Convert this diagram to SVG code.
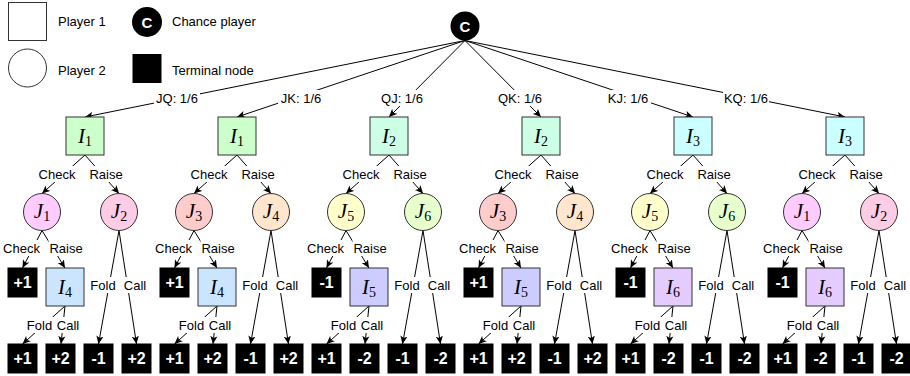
<svg xmlns="http://www.w3.org/2000/svg" width="910" height="376" viewBox="0 0 910 376">
<defs>
<marker id="a" viewBox="0 0 10 10" refX="10" refY="5" markerWidth="8" markerHeight="8" markerUnits="userSpaceOnUse" orient="auto"><path d="M0,0.5 L10,5 L0,9.5 L2.5,5 z" fill="#000"/></marker>
</defs>
<style>
text{font-family:"Liberation Sans",Arial,sans-serif;font-size:13px;fill:#000}
.lbl{text-anchor:middle}
.bg{fill:#fff}
.e{stroke:#000;stroke-width:1;fill:none;marker-end:url(#a)}
.n{stroke:#333;stroke-width:1}
.t{fill:#000;stroke:#000}
.tt{fill:#fff;font-weight:bold;font-size:16px;text-anchor:middle}
.m{font-family:"Liberation Serif","Times New Roman",serif;font-size:21px;text-anchor:middle}
.m tspan.v{font-style:italic}
.m tspan.s{font-size:14px}
.leg{fill:#fff;stroke:#333;stroke-width:1}
</style>
<rect width="910" height="376" fill="#fff"/>

<g id="legend">
<rect class="leg" x="8.5" y="2.5" width="38" height="38"/>
<text x="58" y="26">Player 1</text>
<circle class="leg" cx="27.5" cy="68" r="19"/>
<text x="58" y="75">Player 2</text>
<circle cx="147" cy="22" r="15" fill="#000"/>
<text x="147" y="27.5" class="tt" style="font-size:15px">C</text>
<text x="172" y="26">Chance player</text>
<rect x="132.5" y="54" width="29" height="29" fill="#000"/>
<text x="172" y="75">Terminal node</text>
</g>

<g id="connectors">
<!-- root edges -->
<line class="e" x1="465" y1="40.5" x2="85" y2="117"/>
<line class="e" x1="465" y1="40.5" x2="237" y2="117"/>
<line class="e" x1="465" y1="40.5" x2="389" y2="117"/>
<line class="e" x1="465" y1="40.5" x2="541" y2="117"/>
<line class="e" x1="465" y1="40.5" x2="693" y2="117"/>
<line class="e" x1="465" y1="40.5" x2="845" y2="117"/>
<g>
<rect class="bg" x="154" y="90" width="46" height="16"/><text class="lbl" x="177" y="102.5">JQ: 1/6</text>
<rect class="bg" x="278" y="90" width="46" height="16"/><text class="lbl" x="301" y="102.5">JK: 1/6</text>
<rect class="bg" x="379" y="90" width="46" height="16"/><text class="lbl" x="402" y="102.5">QJ: 1/6</text>
<rect class="bg" x="497" y="90" width="46" height="16"/><text class="lbl" x="520" y="102.5">QK: 1/6</text>
<rect class="bg" x="605" y="90" width="46" height="16"/><text class="lbl" x="628" y="102.5">KJ: 1/6</text>
<rect class="bg" x="723" y="90" width="46" height="16"/><text class="lbl" x="746" y="102.5">KQ: 1/6</text>
</g>
<!-- subtree edges, dx = 0,152,304,456,608,760 -->
<g id="sub-edges-0">
<line class="e" x1="85" y1="155" x2="42" y2="193.5"/>
<line class="e" x1="85" y1="155" x2="119" y2="193.5"/>
<line class="e" x1="42" y1="230.5" x2="22.5" y2="268"/>
<line class="e" x1="42" y1="230.5" x2="65" y2="268"/>
<line class="e" x1="65" y1="306" x2="22.5" y2="344"/>
<line class="e" x1="65" y1="306" x2="61" y2="344"/>
<line class="e" x1="119" y1="230.5" x2="98.5" y2="344"/>
<line class="e" x1="119" y1="230.5" x2="136.5" y2="344"/>
<rect class="bg" x="38" y="166" width="38" height="16"/><text class="lbl" x="57" y="178.5">Check</text>
<rect class="bg" x="88.5" y="166" width="35" height="16"/><text class="lbl" x="106" y="178.5">Raise</text>
<rect class="bg" x="2.5" y="240" width="38" height="16"/><text class="lbl" x="21.5" y="252.5">Check</text>
<rect class="bg" x="48.5" y="240" width="35" height="16"/><text class="lbl" x="66" y="252.5">Raise</text>
<rect class="bg" x="26" y="317" width="27" height="16"/><text class="lbl" x="39.5" y="329.5">Fold</text>
<rect class="bg" x="56" y="317" width="24" height="16"/><text class="lbl" x="68" y="329.5">Call</text>
<rect class="bg" x="89.5" y="277" width="27" height="16"/><text class="lbl" x="103" y="289.5">Fold</text>
<rect class="bg" x="123" y="277" width="24" height="16"/><text class="lbl" x="135" y="289.5">Call</text>
</g>
<g id="sub-edges-1" transform="translate(152,0)">
<line class="e" x1="85" y1="155" x2="42" y2="193.5"/>
<line class="e" x1="85" y1="155" x2="119" y2="193.5"/>
<line class="e" x1="42" y1="230.5" x2="22.5" y2="268"/>
<line class="e" x1="42" y1="230.5" x2="65" y2="268"/>
<line class="e" x1="65" y1="306" x2="22.5" y2="344"/>
<line class="e" x1="65" y1="306" x2="61" y2="344"/>
<line class="e" x1="119" y1="230.5" x2="98.5" y2="344"/>
<line class="e" x1="119" y1="230.5" x2="136.5" y2="344"/>
<rect class="bg" x="38" y="166" width="38" height="16"/><text class="lbl" x="57" y="178.5">Check</text>
<rect class="bg" x="88.5" y="166" width="35" height="16"/><text class="lbl" x="106" y="178.5">Raise</text>
<rect class="bg" x="2.5" y="240" width="38" height="16"/><text class="lbl" x="21.5" y="252.5">Check</text>
<rect class="bg" x="48.5" y="240" width="35" height="16"/><text class="lbl" x="66" y="252.5">Raise</text>
<rect class="bg" x="26" y="317" width="27" height="16"/><text class="lbl" x="39.5" y="329.5">Fold</text>
<rect class="bg" x="56" y="317" width="24" height="16"/><text class="lbl" x="68" y="329.5">Call</text>
<rect class="bg" x="89.5" y="277" width="27" height="16"/><text class="lbl" x="103" y="289.5">Fold</text>
<rect class="bg" x="123" y="277" width="24" height="16"/><text class="lbl" x="135" y="289.5">Call</text>
</g>
<g id="sub-edges-2" transform="translate(304,0)">
<line class="e" x1="85" y1="155" x2="42" y2="193.5"/>
<line class="e" x1="85" y1="155" x2="119" y2="193.5"/>
<line class="e" x1="42" y1="230.5" x2="22.5" y2="268"/>
<line class="e" x1="42" y1="230.5" x2="65" y2="268"/>
<line class="e" x1="65" y1="306" x2="22.5" y2="344"/>
<line class="e" x1="65" y1="306" x2="61" y2="344"/>
<line class="e" x1="119" y1="230.5" x2="98.5" y2="344"/>
<line class="e" x1="119" y1="230.5" x2="136.5" y2="344"/>
<rect class="bg" x="38" y="166" width="38" height="16"/><text class="lbl" x="57" y="178.5">Check</text>
<rect class="bg" x="88.5" y="166" width="35" height="16"/><text class="lbl" x="106" y="178.5">Raise</text>
<rect class="bg" x="2.5" y="240" width="38" height="16"/><text class="lbl" x="21.5" y="252.5">Check</text>
<rect class="bg" x="48.5" y="240" width="35" height="16"/><text class="lbl" x="66" y="252.5">Raise</text>
<rect class="bg" x="26" y="317" width="27" height="16"/><text class="lbl" x="39.5" y="329.5">Fold</text>
<rect class="bg" x="56" y="317" width="24" height="16"/><text class="lbl" x="68" y="329.5">Call</text>
<rect class="bg" x="89.5" y="277" width="27" height="16"/><text class="lbl" x="103" y="289.5">Fold</text>
<rect class="bg" x="123" y="277" width="24" height="16"/><text class="lbl" x="135" y="289.5">Call</text>
</g>
<g id="sub-edges-3" transform="translate(456,0)">
<line class="e" x1="85" y1="155" x2="42" y2="193.5"/>
<line class="e" x1="85" y1="155" x2="119" y2="193.5"/>
<line class="e" x1="42" y1="230.5" x2="22.5" y2="268"/>
<line class="e" x1="42" y1="230.5" x2="65" y2="268"/>
<line class="e" x1="65" y1="306" x2="22.5" y2="344"/>
<line class="e" x1="65" y1="306" x2="61" y2="344"/>
<line class="e" x1="119" y1="230.5" x2="98.5" y2="344"/>
<line class="e" x1="119" y1="230.5" x2="136.5" y2="344"/>
<rect class="bg" x="38" y="166" width="38" height="16"/><text class="lbl" x="57" y="178.5">Check</text>
<rect class="bg" x="88.5" y="166" width="35" height="16"/><text class="lbl" x="106" y="178.5">Raise</text>
<rect class="bg" x="2.5" y="240" width="38" height="16"/><text class="lbl" x="21.5" y="252.5">Check</text>
<rect class="bg" x="48.5" y="240" width="35" height="16"/><text class="lbl" x="66" y="252.5">Raise</text>
<rect class="bg" x="26" y="317" width="27" height="16"/><text class="lbl" x="39.5" y="329.5">Fold</text>
<rect class="bg" x="56" y="317" width="24" height="16"/><text class="lbl" x="68" y="329.5">Call</text>
<rect class="bg" x="89.5" y="277" width="27" height="16"/><text class="lbl" x="103" y="289.5">Fold</text>
<rect class="bg" x="123" y="277" width="24" height="16"/><text class="lbl" x="135" y="289.5">Call</text>
</g>
<g id="sub-edges-4" transform="translate(608,0)">
<line class="e" x1="85" y1="155" x2="42" y2="193.5"/>
<line class="e" x1="85" y1="155" x2="119" y2="193.5"/>
<line class="e" x1="42" y1="230.5" x2="22.5" y2="268"/>
<line class="e" x1="42" y1="230.5" x2="65" y2="268"/>
<line class="e" x1="65" y1="306" x2="22.5" y2="344"/>
<line class="e" x1="65" y1="306" x2="61" y2="344"/>
<line class="e" x1="119" y1="230.5" x2="98.5" y2="344"/>
<line class="e" x1="119" y1="230.5" x2="136.5" y2="344"/>
<rect class="bg" x="38" y="166" width="38" height="16"/><text class="lbl" x="57" y="178.5">Check</text>
<rect class="bg" x="88.5" y="166" width="35" height="16"/><text class="lbl" x="106" y="178.5">Raise</text>
<rect class="bg" x="2.5" y="240" width="38" height="16"/><text class="lbl" x="21.5" y="252.5">Check</text>
<rect class="bg" x="48.5" y="240" width="35" height="16"/><text class="lbl" x="66" y="252.5">Raise</text>
<rect class="bg" x="26" y="317" width="27" height="16"/><text class="lbl" x="39.5" y="329.5">Fold</text>
<rect class="bg" x="56" y="317" width="24" height="16"/><text class="lbl" x="68" y="329.5">Call</text>
<rect class="bg" x="89.5" y="277" width="27" height="16"/><text class="lbl" x="103" y="289.5">Fold</text>
<rect class="bg" x="123" y="277" width="24" height="16"/><text class="lbl" x="135" y="289.5">Call</text>
</g>
<g id="sub-edges-5" transform="translate(760,0)">
<line class="e" x1="85" y1="155" x2="42" y2="193.5"/>
<line class="e" x1="85" y1="155" x2="119" y2="193.5"/>
<line class="e" x1="42" y1="230.5" x2="22.5" y2="268"/>
<line class="e" x1="42" y1="230.5" x2="65" y2="268"/>
<line class="e" x1="65" y1="306" x2="22.5" y2="344"/>
<line class="e" x1="65" y1="306" x2="61" y2="344"/>
<line class="e" x1="119" y1="230.5" x2="98.5" y2="344"/>
<line class="e" x1="119" y1="230.5" x2="136.5" y2="344"/>
<rect class="bg" x="38" y="166" width="38" height="16"/><text class="lbl" x="57" y="178.5">Check</text>
<rect class="bg" x="88.5" y="166" width="35" height="16"/><text class="lbl" x="106" y="178.5">Raise</text>
<rect class="bg" x="2.5" y="240" width="38" height="16"/><text class="lbl" x="21.5" y="252.5">Check</text>
<rect class="bg" x="48.5" y="240" width="35" height="16"/><text class="lbl" x="66" y="252.5">Raise</text>
<rect class="bg" x="26" y="317" width="27" height="16"/><text class="lbl" x="39.5" y="329.5">Fold</text>
<rect class="bg" x="56" y="317" width="24" height="16"/><text class="lbl" x="68" y="329.5">Call</text>
<rect class="bg" x="89.5" y="277" width="27" height="16"/><text class="lbl" x="103" y="289.5">Fold</text>
<rect class="bg" x="123" y="277" width="24" height="16"/><text class="lbl" x="135" y="289.5">Call</text>
</g>
</g>

<g id="root"><circle cx="465" cy="26" r="14.5" fill="#000"/><text x="465" y="31.5" class="tt" style="font-size:15px">C</text></g>

<!-- subtree 0: JQ -->
<g id="s0-I1"><rect class="n" x="66" y="117" width="38" height="38" fill="#ccffcc"/><text class="m" x="85" y="143"><tspan class="v">I</tspan><tspan class="s" dy="3">1</tspan></text></g>
<g id="s0-J1"><circle class="n" cx="42" cy="212" r="18.5" fill="#ffccff"/><text class="m" x="42" y="218"><tspan class="v">J</tspan><tspan class="s" dy="3">1</tspan></text></g>
<g id="s0-J2"><circle class="n" cx="119" cy="212" r="18.5" fill="#ffcce6"/><text class="m" x="119" y="218"><tspan class="v">J</tspan><tspan class="s" dy="3">2</tspan></text></g>
<g id="s0-t1"><rect class="t" x="8" y="268" width="29" height="29"/><text class="tt" x="22.5" y="288">+1</text></g>
<g id="s0-I4"><rect class="n" x="46" y="268" width="38" height="38" fill="#cce5ff"/><text class="m" x="65" y="294"><tspan class="v">I</tspan><tspan class="s" dy="3">4</tspan></text></g>
<g id="s0-b0"><rect class="t" x="8" y="344" width="29" height="29"/><text class="tt" x="22.5" y="364">+1</text></g>
<g id="s0-b1"><rect class="t" x="46" y="344" width="29" height="29"/><text class="tt" x="60.5" y="364">+2</text></g>
<g id="s0-b2"><rect class="t" x="84" y="344" width="29" height="29"/><text class="tt" x="98.5" y="364">-1</text></g>
<g id="s0-b3"><rect class="t" x="122" y="344" width="29" height="29"/><text class="tt" x="136.5" y="364">+2</text></g>

<!-- subtree 1: JK -->
<g id="s1-I1"><rect class="n" x="218" y="117" width="38" height="38" fill="#ccffcc"/><text class="m" x="237" y="143"><tspan class="v">I</tspan><tspan class="s" dy="3">1</tspan></text></g>
<g id="s1-J3"><circle class="n" cx="194" cy="212" r="18.5" fill="#ffcccc"/><text class="m" x="194" y="218"><tspan class="v">J</tspan><tspan class="s" dy="3">3</tspan></text></g>
<g id="s1-J4"><circle class="n" cx="271" cy="212" r="18.5" fill="#ffe6cc"/><text class="m" x="271" y="218"><tspan class="v">J</tspan><tspan class="s" dy="3">4</tspan></text></g>
<g id="s1-t1"><rect class="t" x="160" y="268" width="29" height="29"/><text class="tt" x="174.5" y="288">+1</text></g>
<g id="s1-I4"><rect class="n" x="198" y="268" width="38" height="38" fill="#cce5ff"/><text class="m" x="217" y="294"><tspan class="v">I</tspan><tspan class="s" dy="3">4</tspan></text></g>
<g id="s1-b0"><rect class="t" x="160" y="344" width="29" height="29"/><text class="tt" x="174.5" y="364">+1</text></g>
<g id="s1-b1"><rect class="t" x="198" y="344" width="29" height="29"/><text class="tt" x="212.5" y="364">+2</text></g>
<g id="s1-b2"><rect class="t" x="236" y="344" width="29" height="29"/><text class="tt" x="250.5" y="364">-1</text></g>
<g id="s1-b3"><rect class="t" x="274" y="344" width="29" height="29"/><text class="tt" x="288.5" y="364">+2</text></g>

<!-- subtree 2: QJ -->
<g id="s2-I2"><rect class="n" x="370" y="117" width="38" height="38" fill="#ccffe6"/><text class="m" x="389" y="143"><tspan class="v">I</tspan><tspan class="s" dy="3">2</tspan></text></g>
<g id="s2-J5"><circle class="n" cx="346" cy="212" r="18.5" fill="#ffffcc"/><text class="m" x="346" y="218"><tspan class="v">J</tspan><tspan class="s" dy="3">5</tspan></text></g>
<g id="s2-J6"><circle class="n" cx="423" cy="212" r="18.5" fill="#e6ffcc"/><text class="m" x="423" y="218"><tspan class="v">J</tspan><tspan class="s" dy="3">6</tspan></text></g>
<g id="s2-t1"><rect class="t" x="312" y="268" width="29" height="29"/><text class="tt" x="326.5" y="288">-1</text></g>
<g id="s2-I5"><rect class="n" x="350" y="268" width="38" height="38" fill="#ccccff"/><text class="m" x="369" y="294"><tspan class="v">I</tspan><tspan class="s" dy="3">5</tspan></text></g>
<g id="s2-b0"><rect class="t" x="312" y="344" width="29" height="29"/><text class="tt" x="326.5" y="364">+1</text></g>
<g id="s2-b1"><rect class="t" x="350" y="344" width="29" height="29"/><text class="tt" x="364.5" y="364">-2</text></g>
<g id="s2-b2"><rect class="t" x="388" y="344" width="29" height="29"/><text class="tt" x="402.5" y="364">-1</text></g>
<g id="s2-b3"><rect class="t" x="426" y="344" width="29" height="29"/><text class="tt" x="440.5" y="364">-2</text></g>

<!-- subtree 3: QK -->
<g id="s3-I2"><rect class="n" x="522" y="117" width="38" height="38" fill="#ccffe6"/><text class="m" x="541" y="143"><tspan class="v">I</tspan><tspan class="s" dy="3">2</tspan></text></g>
<g id="s3-J3"><circle class="n" cx="498" cy="212" r="18.5" fill="#ffcccc"/><text class="m" x="498" y="218"><tspan class="v">J</tspan><tspan class="s" dy="3">3</tspan></text></g>
<g id="s3-J4"><circle class="n" cx="575" cy="212" r="18.5" fill="#ffe6cc"/><text class="m" x="575" y="218"><tspan class="v">J</tspan><tspan class="s" dy="3">4</tspan></text></g>
<g id="s3-t1"><rect class="t" x="464" y="268" width="29" height="29"/><text class="tt" x="478.5" y="288">+1</text></g>
<g id="s3-I5"><rect class="n" x="502" y="268" width="38" height="38" fill="#ccccff"/><text class="m" x="521" y="294"><tspan class="v">I</tspan><tspan class="s" dy="3">5</tspan></text></g>
<g id="s3-b0"><rect class="t" x="464" y="344" width="29" height="29"/><text class="tt" x="478.5" y="364">+1</text></g>
<g id="s3-b1"><rect class="t" x="502" y="344" width="29" height="29"/><text class="tt" x="516.5" y="364">+2</text></g>
<g id="s3-b2"><rect class="t" x="540" y="344" width="29" height="29"/><text class="tt" x="554.5" y="364">-1</text></g>
<g id="s3-b3"><rect class="t" x="578" y="344" width="29" height="29"/><text class="tt" x="592.5" y="364">+2</text></g>

<!-- subtree 4: KJ -->
<g id="s4-I3"><rect class="n" x="674" y="117" width="38" height="38" fill="#ccffff"/><text class="m" x="693" y="143"><tspan class="v">I</tspan><tspan class="s" dy="3">3</tspan></text></g>
<g id="s4-J5"><circle class="n" cx="650" cy="212" r="18.5" fill="#ffffcc"/><text class="m" x="650" y="218"><tspan class="v">J</tspan><tspan class="s" dy="3">5</tspan></text></g>
<g id="s4-J6"><circle class="n" cx="727" cy="212" r="18.5" fill="#e6ffcc"/><text class="m" x="727" y="218"><tspan class="v">J</tspan><tspan class="s" dy="3">6</tspan></text></g>
<g id="s4-t1"><rect class="t" x="616" y="268" width="29" height="29"/><text class="tt" x="630.5" y="288">-1</text></g>
<g id="s4-I6"><rect class="n" x="654" y="268" width="38" height="38" fill="#e5ccff"/><text class="m" x="673" y="294"><tspan class="v">I</tspan><tspan class="s" dy="3">6</tspan></text></g>
<g id="s4-b0"><rect class="t" x="616" y="344" width="29" height="29"/><text class="tt" x="630.5" y="364">+1</text></g>
<g id="s4-b1"><rect class="t" x="654" y="344" width="29" height="29"/><text class="tt" x="668.5" y="364">-2</text></g>
<g id="s4-b2"><rect class="t" x="692" y="344" width="29" height="29"/><text class="tt" x="706.5" y="364">-1</text></g>
<g id="s4-b3"><rect class="t" x="730" y="344" width="29" height="29"/><text class="tt" x="744.5" y="364">-2</text></g>

<!-- subtree 5: KQ -->
<g id="s5-I3"><rect class="n" x="826" y="117" width="38" height="38" fill="#ccffff"/><text class="m" x="845" y="143"><tspan class="v">I</tspan><tspan class="s" dy="3">3</tspan></text></g>
<g id="s5-J1"><circle class="n" cx="802" cy="212" r="18.5" fill="#ffccff"/><text class="m" x="802" y="218"><tspan class="v">J</tspan><tspan class="s" dy="3">1</tspan></text></g>
<g id="s5-J2"><circle class="n" cx="879" cy="212" r="18.5" fill="#ffcce6"/><text class="m" x="879" y="218"><tspan class="v">J</tspan><tspan class="s" dy="3">2</tspan></text></g>
<g id="s5-t1"><rect class="t" x="768" y="268" width="29" height="29"/><text class="tt" x="782.5" y="288">-1</text></g>
<g id="s5-I6"><rect class="n" x="806" y="268" width="38" height="38" fill="#e5ccff"/><text class="m" x="825" y="294"><tspan class="v">I</tspan><tspan class="s" dy="3">6</tspan></text></g>
<g id="s5-b0"><rect class="t" x="768" y="344" width="29" height="29"/><text class="tt" x="782.5" y="364">+1</text></g>
<g id="s5-b1"><rect class="t" x="806" y="344" width="29" height="29"/><text class="tt" x="820.5" y="364">-2</text></g>
<g id="s5-b2"><rect class="t" x="844" y="344" width="29" height="29"/><text class="tt" x="858.5" y="364">-1</text></g>
<g id="s5-b3"><rect class="t" x="882" y="344" width="29" height="29"/><text class="tt" x="896.5" y="364">-2</text></g>
</svg>
